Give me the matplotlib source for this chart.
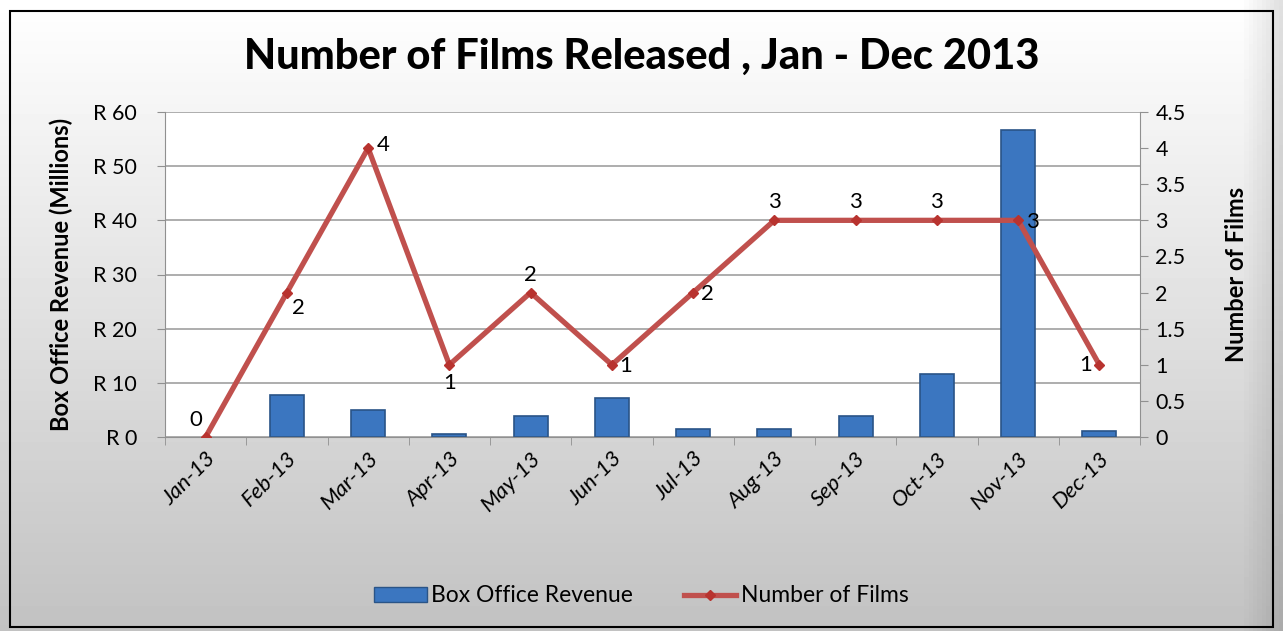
import numpy as np
import matplotlib.pyplot as plt
from matplotlib.lines import Line2D
from matplotlib.patches import Patch, Rectangle

# data
months = ['Jan-13', 'Feb-13', 'Mar-13', 'Apr-13', 'May-13', 'Jun-13',
          'Jul-13', 'Aug-13', 'Sep-13', 'Oct-13', 'Nov-13', 'Dec-13']
revenue = [0, 7.8, 5.0, 0.5, 3.9, 7.2, 1.5, 1.5, 3.8, 11.7, 56.7, 1.2]
films = [0, 2, 4, 1, 2, 1, 2, 3, 3, 3, 3, 1]
rev_ticks = [0, 10, 20, 30, 40, 50, 60]
film_ticks = [0, 0.5, 1, 1.5, 2, 2.5, 3, 3.5, 4, 4.5]

# label offsets (points) for the line labels
label_off = [(-7, 12), (8, -11), (11, 2), (0, -13), (0, 13), (10, -1),
             (10, -1), (0, 13), (0, 13), (0, 13), (10, -1), (-10, 0)]

plt.rcParams['font.family'] = ['Lato', 'DejaVu Sans']

W, H = 1283, 631
fig = plt.figure(figsize=(W / 100, H / 100), dpi=100)

# background gradient
bg = fig.add_axes([0, 0, 1, 1], zorder=-10)
grad = np.linspace(1.0, 0.76, 200)[:, None] * np.ones((1, 300))
grad[:, 290:] *= np.linspace(1, 0.88, 10)[None, :]
bg.imshow(grad, cmap='gray', vmin=0, vmax=1, aspect='auto',
          extent=[0, 1, 0, 1], origin='upper')
bg.add_patch(Rectangle((10 / W, 4 / H), (W - 20) / W, (H - 15) / H,
                       fill=False, edgecolor='black', linewidth=1.5,
                       transform=bg.transAxes))
bg.set_xlim(0, 1)
bg.set_ylim(0, 1)
bg.axis('off')

ax = fig.add_axes([165 / W, (H - 437) / H, 975 / W, 325 / H])
ax.set_facecolor('white')
x = np.arange(len(months))

ax.bar(x, revenue, width=0.42, color='#3b76c0', edgecolor='#2a5487',
       linewidth=[1.2 if v > 0 else 0 for v in revenue], zorder=2)
ax.set_ylim(0, 60)
ax.set_xlim(-0.5, len(months) - 0.5)
ax.set_yticks(rev_ticks)
ax.set_yticklabels([f'R {v}' for v in rev_ticks], fontsize=15.5)
ax.yaxis.grid(True, color='#a0a0a0', linewidth=1.2, zorder=0)
ax.set_axisbelow(True)
ax.set_xticks(x)
ax.set_xticklabels(months, rotation=45, ha='right', rotation_mode='anchor',
                   fontsize=16, style='italic')
ax.set_xticks(np.arange(-0.5, len(months)), minor=True)
ax.tick_params(axis='x', which='major', length=0, pad=8)
ax.tick_params(axis='x', which='minor', length=6, color='#909090')
ax.tick_params(axis='y', length=6, color='#909090', pad=14)
for s in ['top', 'right']:
    ax.spines[s].set_visible(False)
ax.spines['left'].set_color('#909090')
ax.spines['bottom'].set_color('#909090')
ax.set_ylabel('Box Office Revenue (Millions)', fontsize=17, fontweight='bold')
ax.yaxis.set_label_coords((73 - 165) / 975, 0.5)

ax2 = ax.twinx()
ax2.plot(x, films, color='#c0504d', linewidth=3.8, marker='D', markersize=5,
         markerfacecolor='#b8332f', markeredgecolor='#b8332f', zorder=3)
ax2.set_ylim(0, 4.5)
ax2.set_yticks(film_ticks)
ax2.set_yticklabels([f'{v:g}' for v in film_ticks], fontsize=15.5)
ax2.tick_params(axis='y', length=6, color='#909090', pad=5)
for s in ['top', 'left', 'bottom']:
    ax2.spines[s].set_visible(False)
ax2.spines['right'].set_color('#909090')
ax2.set_ylabel('Number of Films', fontsize=17, fontweight='bold')
ax2.yaxis.set_label_coords((1225 - 165) / 975, 0.5)

for xi, v, off in zip(x, films, label_off):
    ax2.annotate(str(v), (xi, v), xytext=off, textcoords='offset points',
                 ha='center', va='center', fontsize=16)

fig.text(0.5, 1 - 57 / H, 'Number of Films Released , Jan - Dec 2013',
         ha='center', va='center', fontsize=30, fontweight='black')

handles = [Patch(facecolor='#3b76c0', edgecolor='#2a5487'),
           Line2D([0], [0], color='#c0504d', linewidth=3.8, marker='D',
                  markersize=5, markerfacecolor='#b8332f',
                  markeredgecolor='#b8332f')]
fig.legend(handles, ['Box Office Revenue', 'Number of Films'],
           loc='center', bbox_to_anchor=(0.5, 1 - 596 / H), ncol=2,
           frameon=False, fontsize=16.5, handlelength=2.3, handleheight=0.6,
           columnspacing=2.2, handletextpad=0.2)

fig.savefig('out.png', dpi=100)
